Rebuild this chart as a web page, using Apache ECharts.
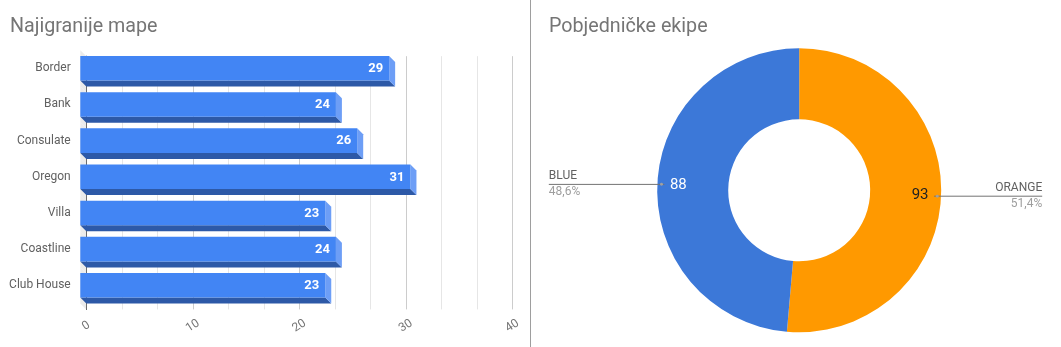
<!DOCTYPE html>
<html><head><meta charset="utf-8">
<script src="https://cdn.jsdelivr.net/npm/echarts@6/dist/echarts.min.js"></script>
<style>html,body{margin:0;padding:0;background:#fff}#c{width:1061px;height:347px}</style>
</head><body><div id="c"></div>
<script>
// ---- data ----
const mapCategories = ['Border', 'Bank', 'Consulate', 'Oregon', 'Villa', 'Coastline', 'Club House'];
const mapPlays = [29, 24, 26, 31, 23, 24, 23];
const xTickMax = 40;
const xTickStep = 10;
const teamNames = ['ORANGE', 'BLUE'];
const teamWins = [93, 88];

// ---- styles ----
const FONT = 'Roboto, "Noto Sans", sans-serif';
const teamColors = { ORANGE: '#ff9900', BLUE: '#3c78d8' };
const teamValueLabelStyle = { ORANGE: 'dark', BLUE: 'light' };
const DEPTH = 6;

const chart = echarts.init(document.getElementById('c'), null, { renderer: 'canvas' });

function renderBar(params, api) {
  const v = api.value(0), i = api.value(1);
  const p0 = api.coord([0, i]);
  const p1 = api.coord([v, i]);
  const band = api.size([0, 1])[1];
  const h = band * 0.68, d = DEPTH;
  const x0 = p0[0], x1 = p1[0], yc = p0[1];
  const top = yc - h / 2, bot = yc + h / 2;
  const bt = yc - band / 2, bb = yc + band / 2;
  return {
    type: 'group',
    children: [
      { type: 'polygon', z2: 0, shape: { points: [[x0 - d, bt - d], [x0, bt], [x0, bb], [x0 - d, bb - d]] },
        style: { fill: '#ebebeb' } },
      { type: 'polygon', z2: 10, shape: { points: [[x0 - d, bot - d], [x1 - d, bot - d], [x1, bot], [x0, bot]] },
        style: { fill: '#2d59a7' } },
      { type: 'polygon', z2: 10, shape: { points: [[x1 - d, top - d], [x1, top], [x1, bot], [x1 - d, bot - d]] },
        style: { fill: '#6d9ef6' } },
      { type: 'rect', z2: 11, shape: { x: x0 - d, y: top - d, width: x1 - x0, height: h },
        style: { fill: '#4285f4' } },
      { type: 'text', z2: 12, style: { text: String(v), x: x1 - d - 6, y: yc - d + 0.5, align: 'right', verticalAlign: 'middle',
        fill: '#ffffff', fontSize: 13, fontWeight: 'bold', fontFamily: FONT } }
    ]
  };
}

const noBorder = { textBorderWidth: 0, textBorderColor: 'transparent', textShadowBlur: 0 };

const option = {
  animation: false,
  title: [
    { text: 'Najigranije mape', left: 10, top: 17.5, padding: 0,
      textStyle: { fontFamily: FONT, fontSize: 19.7, fontWeight: 'normal', color: '#757575' } },
    { text: 'Pobjedničke ekipe', left: 549, top: 17.5, padding: 0,
      textStyle: { fontFamily: FONT, fontSize: 19.7, fontWeight: 'normal', color: '#757575' } }
  ],
  graphic: [
    { type: 'line', shape: { x1: 530.5, y1: 0, x2: 530.5, y2: 347 }, style: { stroke: '#9e9e9e', lineWidth: 1 } }
  ],
  grid: { left: 86.3, width: 426, top: 56.2, bottom: 37.6, containLabel: false },
  xAxis: {
    type: 'value', min: 0, max: xTickMax, interval: xTickStep,
    axisLine: { show: false }, axisTick: { show: false },
    splitLine: { show: true, lineStyle: { color: '#cccccc', width: 1 } },
    minorTick: { show: false, splitNumber: 3 },
    minorSplitLine: { show: true, lineStyle: { color: '#e6e6e6', width: 1 } },
    axisLabel: { rotate: 33, align: 'center', verticalAlign: 'middle', margin: 16.5,
      color: '#757575', fontSize: 12, fontFamily: FONT }
  },
  yAxis: {
    type: 'category', data: mapCategories, inverse: true,
    axisTick: { show: false },
    axisLine: { show: true, lineStyle: { color: '#333333', width: 1 } },
    axisLabel: { color: '#616161', fontSize: 12, fontFamily: FONT, margin: 15.6,
      verticalAlign: 'bottom', lineHeight: 12 }
  },
  series: [
    {
      type: 'custom', renderItem: renderBar, silent: true,
      encode: { x: 0, y: 1 },
      data: mapPlays.map((v, i) => [v, i])
    },
    {
      type: 'pie', silent: true, left: 530, top: 0, right: 0, bottom: 0,
      center: [269.2, 190.3], radius: [71, 142], startAngle: 90, clockwise: true,
      label: { show: false }, labelLine: { show: false },
      data: teamNames.map((n, i) => ({ name: n, value: teamWins[i], itemStyle: { color: teamColors[n] } }))
    },
    {
      type: 'pie', silent: true, left: 530, top: 0, right: 0, bottom: 0, z: 3,
      center: [269.2, 190.3], radius: [94, 142], startAngle: 90, clockwise: true,
      itemStyle: { opacity: 0 },
      label: Object.assign({
        show: true, position: 'inside', opacity: 1,
        formatter: p => '{' + teamValueLabelStyle[p.name] + '|' + p.value + '}',
        rich: {
          light: Object.assign({ color: '#ffffff', fontSize: 15, fontFamily: FONT }, noBorder),
          dark: Object.assign({ color: '#212121', fontSize: 15, fontFamily: FONT }, noBorder)
        }
      }, noBorder),
      labelLine: { show: false },
      data: teamNames.map((n, i) => ({ name: n, value: teamWins[i], itemStyle: { color: teamColors[n] } }))
    },
    {
      type: 'pie', silent: true, left: 530, top: 0, right: 0, bottom: 0, z: 3,
      center: [269.2, 190.3], radius: [128, 142], startAngle: 90, clockwise: true,
      itemStyle: { opacity: 0 },
      label: Object.assign({ show: true, position: 'inside', opacity: 1, formatter: '{d|●}',
        rich: { d: Object.assign({ fontSize: 7, color: '#a0a0a0' }, noBorder) } }, noBorder),
      labelLine: { show: false },
      data: teamNames.map((n, i) => ({ name: n, value: teamWins[i], itemStyle: { color: teamColors[n] } }))
    },
    {
      type: 'pie', silent: true, left: 530, top: 0, right: 0, bottom: 0, z: 3,
      center: [269.2, 190.3], radius: [0, 135], startAngle: 90, clockwise: true,
      percentPrecision: 1, avoidLabelOverlap: false,
      itemStyle: { opacity: 0 },
      label: {
        show: true, position: 'outside', alignTo: 'edge', edgeDistance: 18.8, distanceToLabelLine: 0, opacity: 1,
        formatter: p => '{n|' + p.name + '}\n{p|' + p.percent.toFixed(1).replace('.', ',') + '%}',
        rich: {
          n: { fontSize: 12, color: '#616161', fontFamily: FONT, lineHeight: 16 },
          p: { fontSize: 12, color: '#9e9e9e', fontFamily: FONT, lineHeight: 16 }
        }
      },
      labelLine: { show: true, length: 1, length2: 5, lineStyle: { color: '#737373', width: 1, opacity: 1 } },
      labelLayout: function (params) {
        const pts = params.labelLinePoints;
        if (!pts) return {};
        const r = params.labelRect;
        const start = pts[0];
        const y = pts[pts.length - 1][1];
        const isLeft = r.x + r.width / 2 < start[0];
        const endX = isLeft ? r.x : r.x + r.width;
        return { labelLinePoints: [start, [start[0], y], [endX, y]] };
      },
      data: teamNames.map((n, i) => ({ name: n, value: teamWins[i], itemStyle: { color: teamColors[n] } }))
    }
  ]
};
chart.setOption(option);
</script>
</body></html>
